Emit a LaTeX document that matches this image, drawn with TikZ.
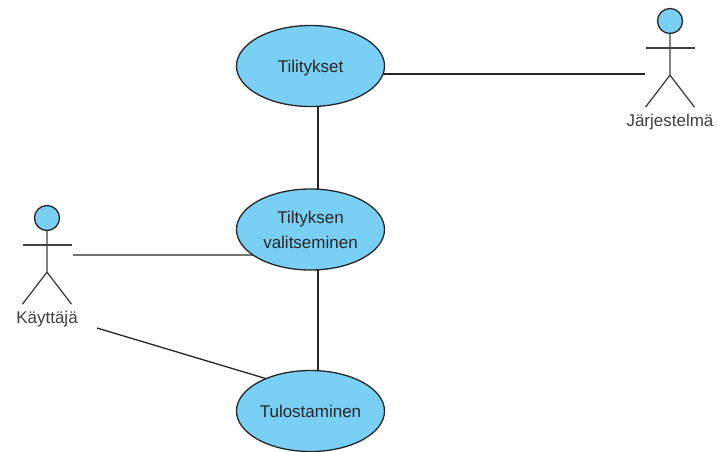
\documentclass[tikz,border=0pt]{standalone}
\usepackage{fontspec}
\setmainfont{Liberation Sans}
\usetikzlibrary{positioning,backgrounds,shapes.geometric}
\definecolor{usecaseblue}{HTML}{7ACFF5}

\begin{document}
\begin{tikzpicture}[
    x=1pt, y=-1pt,
    usecasenode/.style={ellipse, draw=black!85, fill=usecaseblue, line width=1.3pt, minimum width=148pt, minimum height=81pt, inner sep=0pt, align=center, text=black!85, text depth=0pt, font=\fontsize{17}{25}\selectfont},
    headnode/.style={circle, draw=black!85, fill=usecaseblue, line width=1.3pt, minimum size=25pt, inner sep=0pt},
    actorlabel/.style={font=\fontsize{17}{20}\selectfont, text=black!75, inner sep=0pt},
    stick/.style={draw=black!75, line width=1.3pt},
    assoc/.style={draw=black!85, line width=1.3pt}
    ]
        \useasboundingbox (0,0) rectangle (718,451);
        %Nodes
        \node[usecasenode]
            (tilit)     at (310.5,66)       {Tilitykset};
        \node[usecasenode]
            (valit)     [below=81.2pt of tilit]   {Tiltyksen\\valitseminen};
        \node[usecasenode]
            (tulos)     [below=99.2pt of valit]   {Tulostaminen};
        \node[headnode]
            (jhead)     at (670,21)         {};
        \node[headnode]
            (khead)     at (47,218)         {};
        \node[actorlabel]
            (jlabel)    [below=80pt of jhead]     {Järjestelmä};
        \node[actorlabel]
            (klabel)    [below=80pt of khead]     {Käyttäjä};
        \coordinate (jfree) at ([shift={(-25pt,-53pt)}]jhead.center);
        \coordinate (kfree) at ([shift={(26pt,-37pt)}]khead.center);
        \coordinate (kfreeb) at ([shift={(50pt,-110pt)}]khead.center);

        %Stick figures
        \foreach \head in {jhead,khead} {
            \draw[stick] (\head.south) -- ++(0,41) coordinate (hip)
                -- +(-24.5,32) (hip) -- +(24.5,32);
            \draw[stick] ([shift={(-24.5pt,-27pt)}]\head.center) -- ([shift={(24.5pt,-27pt)}]\head.center);
        }

        %Lines
        \begin{scope}[on background layer]
            \draw[assoc]
                ([yshift=-8pt]tilit.center) -- (jfree);
            \draw[assoc]
                ([xshift=7.5pt]tilit.center) -- ([xshift=7.5pt]valit.center);
            \draw[assoc]
                (kfree) -- ([yshift=-25.5pt]valit.center);
            \draw[assoc]
                ([xshift=7.5pt]valit.center) -- ([xshift=7.5pt]tulos.center);
            \draw[assoc]
                (kfreeb) -- ([shift={(-30.5pt,28.2pt)}]tulos.center);
        \end{scope}
    \end{tikzpicture}
\end{document}
